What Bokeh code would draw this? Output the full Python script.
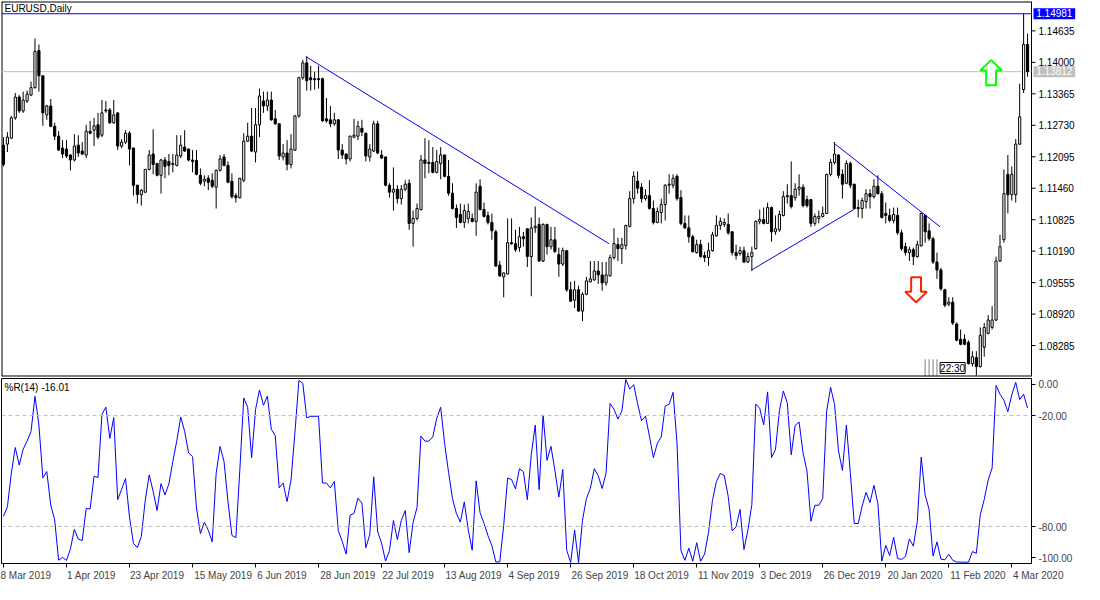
import numpy as np
from bokeh.plotting import figure
from bokeh.layouts import column
from bokeh.models import FixedTicker, Range1d, Span, Label
from bokeh.core.properties import value
from bokeh.embed import file_html
from bokeh.resources import INLINE

# ---------------- data (EURUSD daily) ----------------
opens = [
 1.1233, 1.1235, 1.1247, 1.1288, 1.1330, 1.1302, 1.1322, 1.1334, 1.1349, 1.1424,
 1.1373, 1.1294, 1.1312, 1.1271, 1.1251, 1.1227, 1.1225, 1.1213, 1.1203, 1.1233,
 1.1221, 1.1213, 1.1261, 1.1263, 1.1274, 1.1253, 1.1304, 1.1304, 1.1278, 1.1298,
 1.1231, 1.1239, 1.1257, 1.1227, 1.1152, 1.1133, 1.1138, 1.1184, 1.1215, 1.1196,
 1.1172, 1.1203, 1.1200, 1.1194, 1.1192, 1.1211, 1.1229, 1.1225, 1.1203, 1.1202,
 1.1172, 1.1160, 1.1166, 1.1162, 1.1148, 1.1182, 1.1209, 1.1192, 1.1160, 1.1131,
 1.1127, 1.1162, 1.1241, 1.1251, 1.1219, 1.1274, 1.1322, 1.1312, 1.1324, 1.1286,
 1.1276, 1.1209, 1.1217, 1.1194, 1.1223, 1.1292, 1.1369, 1.1399, 1.1369, 1.1367,
 1.1367, 1.1367, 1.1286, 1.1284, 1.1276, 1.1284, 1.1223, 1.1215, 1.1205, 1.1249,
 1.1251, 1.1267, 1.1257, 1.1209, 1.1221, 1.1276, 1.1213, 1.1209, 1.1152, 1.1138,
 1.1144, 1.1125, 1.1144, 1.1156, 1.1075, 1.1085, 1.1103, 1.1203, 1.1198, 1.1198,
 1.1178, 1.1196, 1.1213, 1.1170, 1.1136, 1.1105, 1.1093, 1.1077, 1.1085, 1.1085,
 1.1079, 1.1150, 1.1103, 1.1091, 1.1077, 1.1058, 1.0991, 1.0967, 1.0973, 1.1036,
 1.1034, 1.1026, 1.1048, 1.1064, 1.1008, 1.1066, 1.1073, 1.0999, 1.1073, 1.1028,
 1.1042, 1.1012, 1.0993, 1.1020, 1.0941, 1.0920, 1.0941, 1.0898, 1.0932, 1.0957,
 1.0961, 1.0979, 1.0971, 1.0955, 1.0969, 1.1006, 1.1032, 1.1024, 1.1030, 1.1069,
 1.1125, 1.1160, 1.1148, 1.1125, 1.1131, 1.1105, 1.1077, 1.1097, 1.1113, 1.1152,
 1.1152, 1.1170, 1.1127, 1.1075, 1.1066, 1.1048, 1.1016, 1.1032, 1.1010, 1.1006,
 1.1020, 1.1050, 1.1071, 1.1073, 1.1073, 1.1058, 1.1016, 1.1014, 1.1020, 1.0997,
 1.1008, 1.1024, 1.1079, 1.1083, 1.1075, 1.1107, 1.1058, 1.1062, 1.1091, 1.1129,
 1.1131, 1.1127, 1.1144, 1.1148, 1.1123, 1.1123, 1.1075, 1.1085, 1.1089, 1.1095,
 1.1174, 1.1198, 1.1213, 1.1174, 1.1156, 1.1196, 1.1154, 1.1107, 1.1105, 1.1119,
 1.1135, 1.1129, 1.1150, 1.1135, 1.1095, 1.1091, 1.1081, 1.1091, 1.1056, 1.1028,
 1.1016, 1.1022, 1.1008, 1.1030, 1.1091, 1.1060, 1.1044, 1.0997, 1.0981, 1.0941,
 1.0912, 1.0916, 1.0872, 1.0841, 1.0841, 1.0835, 1.0792, 1.0804, 1.0786, 1.0825,
 1.0853, 1.0865, 1.0880, 1.0999, 1.1042, 1.1174, 1.1133, 1.1133, 1.1235, 1.1345,
 1.1436]

highs = [
 1.1249, 1.1259, 1.1292, 1.1338, 1.1334, 1.1341, 1.1343, 1.1361, 1.1448, 1.1436,
 1.1373, 1.1314, 1.1326, 1.1278, 1.1261, 1.1243, 1.1243, 1.1215, 1.1255, 1.1253,
 1.1239, 1.1274, 1.1282, 1.1288, 1.1298, 1.1324, 1.1322, 1.1308, 1.1324, 1.1299,
 1.1245, 1.1263, 1.1261, 1.1228, 1.1153, 1.1144, 1.1185, 1.1223, 1.1265, 1.1197,
 1.1205, 1.1209, 1.1215, 1.1215, 1.1253, 1.1253, 1.1263, 1.1226, 1.1223, 1.1223,
 1.1186, 1.1172, 1.1172, 1.1176, 1.1184, 1.1213, 1.1215, 1.1200, 1.1176, 1.1136,
 1.1167, 1.1257, 1.1278, 1.1308, 1.1308, 1.1347, 1.1341, 1.1341, 1.1341, 1.1304,
 1.1277, 1.1235, 1.1243, 1.1255, 1.1294, 1.1371, 1.1405, 1.1412, 1.1393, 1.1381,
 1.1393, 1.1369, 1.1328, 1.1312, 1.1298, 1.1285, 1.1235, 1.1216, 1.1252, 1.1286,
 1.1282, 1.1284, 1.1258, 1.1235, 1.1282, 1.1282, 1.1223, 1.1210, 1.1156, 1.1188,
 1.1152, 1.1152, 1.1162, 1.1164, 1.1101, 1.1115, 1.1213, 1.1247, 1.1243, 1.1229,
 1.1223, 1.1229, 1.1214, 1.1203, 1.1156, 1.1113, 1.1115, 1.1113, 1.1115, 1.1095,
 1.1156, 1.1164, 1.1117, 1.1099, 1.1095, 1.1062, 1.0999, 1.0976, 1.1085, 1.1085,
 1.1062, 1.1068, 1.1058, 1.1065, 1.1087, 1.1109, 1.1087, 1.1075, 1.1074, 1.1068,
 1.1068, 1.1026, 1.1026, 1.1021, 1.0957, 1.0959, 1.0949, 1.0936, 1.0967, 1.0999,
 1.0999, 1.0999, 1.0997, 1.0997, 1.1012, 1.1065, 1.1046, 1.1046, 1.1072, 1.1140,
 1.1180, 1.1180, 1.1156, 1.1144, 1.1162, 1.1121, 1.1107, 1.1125, 1.1154, 1.1174,
 1.1174, 1.1174, 1.1142, 1.1091, 1.1091, 1.1052, 1.1042, 1.1042, 1.1018, 1.1036,
 1.1058, 1.1091, 1.1087, 1.1085, 1.1095, 1.1059, 1.1032, 1.1028, 1.1028, 1.1016,
 1.1028, 1.1081, 1.1103, 1.1107, 1.1117, 1.1109, 1.1091, 1.1101, 1.1140, 1.1154,
 1.1200, 1.1156, 1.1174, 1.1154, 1.1131, 1.1124, 1.1095, 1.1101, 1.1109, 1.1175,
 1.1205, 1.1239, 1.1215, 1.1184, 1.1202, 1.1200, 1.1155, 1.1123, 1.1127, 1.1144,
 1.1144, 1.1164, 1.1172, 1.1140, 1.1117, 1.1105, 1.1107, 1.1107, 1.1062, 1.1036,
 1.1028, 1.1026, 1.1040, 1.1097, 1.1093, 1.1075, 1.1048, 1.1016, 1.0985, 1.0943,
 1.0926, 1.0926, 1.0875, 1.0861, 1.0851, 1.0839, 1.0817, 1.0817, 1.0865, 1.0874,
 1.0890, 1.0908, 1.1008, 1.1052, 1.1184, 1.1213, 1.1190, 1.1245, 1.1357, 1.14981,
 1.1458]

lows = [
 1.1190, 1.1219, 1.1245, 1.1284, 1.1298, 1.1298, 1.1318, 1.1332, 1.1347, 1.1341,
 1.1272, 1.1284, 1.1269, 1.1243, 1.1221, 1.1207, 1.1207, 1.1182, 1.1200, 1.1209,
 1.1213, 1.1207, 1.1255, 1.1231, 1.1245, 1.1249, 1.1298, 1.1276, 1.1276, 1.1223,
 1.1227, 1.1235, 1.1192, 1.1131, 1.1115, 1.1111, 1.1136, 1.1182, 1.1174, 1.1170,
 1.1135, 1.1166, 1.1172, 1.1178, 1.1190, 1.1207, 1.1219, 1.1200, 1.1178, 1.1172,
 1.1152, 1.1150, 1.1142, 1.1146, 1.1105, 1.1180, 1.1190, 1.1156, 1.1125, 1.1117,
 1.1125, 1.1158, 1.1239, 1.1219, 1.1198, 1.1249, 1.1298, 1.1302, 1.1282, 1.1274,
 1.1203, 1.1202, 1.1182, 1.1186, 1.1221, 1.1288, 1.1365, 1.1343, 1.1343, 1.1345,
 1.1347, 1.1280, 1.1278, 1.1269, 1.1272, 1.1205, 1.1205, 1.1194, 1.1200, 1.1247,
 1.1243, 1.1251, 1.1200, 1.1200, 1.1219, 1.1215, 1.1205, 1.1150, 1.1127, 1.1101,
 1.1115, 1.1113, 1.1140, 1.1062, 1.1028, 1.1081, 1.1101, 1.1166, 1.1176, 1.1176,
 1.1176, 1.1164, 1.1168, 1.1131, 1.1103, 1.1066, 1.1075, 1.1066, 1.1075, 1.1077,
 1.1050, 1.1101, 1.1087, 1.1073, 1.1042, 1.0987, 1.0967, 1.0926, 1.0972, 1.1032,
 1.1018, 1.1018, 1.1028, 1.0987, 1.0928, 1.1056, 1.0997, 1.0997, 1.1012, 1.1022,
 1.1016, 1.0967, 1.0989, 1.0937, 1.0917, 1.0904, 1.0897, 1.0878, 1.0930, 1.0956,
 1.0959, 1.0953, 1.0939, 1.0949, 1.0968, 1.1002, 1.0999, 1.0993, 1.1022, 1.1067,
 1.1115, 1.1135, 1.1117, 1.1121, 1.1103, 1.1073, 1.1075, 1.1075, 1.1081, 1.1135,
 1.1146, 1.1121, 1.1071, 1.1064, 1.1036, 1.1016, 1.1014, 1.1006, 1.0997, 1.0989,
 1.1018, 1.1048, 1.1062, 1.1068, 1.1052, 1.1010, 1.1002, 1.1010, 1.0995, 1.0995,
 1.0979, 1.1022, 1.1073, 1.1073, 1.1074, 1.1038, 1.1052, 1.1058, 1.1089, 1.1115,
 1.1105, 1.1121, 1.1131, 1.1107, 1.1107, 1.1068, 1.1070, 1.1075, 1.1087, 1.1094,
 1.1170, 1.1194, 1.1166, 1.1125, 1.1154, 1.1146, 1.1103, 1.1087, 1.1085, 1.1105,
 1.1105, 1.1125, 1.1133, 1.1085, 1.1075, 1.1077, 1.1075, 1.1052, 1.1020, 1.1010,
 1.0999, 1.0991, 1.1006, 1.1028, 1.1036, 1.1040, 1.0993, 1.0963, 1.0939, 1.0906,
 1.0908, 1.0870, 1.0837, 1.0829, 1.0829, 1.0790, 1.0786, 1.0768, 1.0784, 1.0806,
 1.0851, 1.0861, 1.0878, 1.0997, 1.1036, 1.1095, 1.1121, 1.1117, 1.1233, 1.1338,
 1.1371]

closes = [
 1.1194, 1.1249, 1.1288, 1.1330, 1.1302, 1.1324, 1.1336, 1.1349, 1.1422, 1.1373,
 1.1298, 1.1312, 1.1271, 1.1251, 1.1223, 1.1215, 1.1211, 1.1203, 1.1231, 1.1217,
 1.1215, 1.1261, 1.1257, 1.1272, 1.1249, 1.1298, 1.1302, 1.1278, 1.1294, 1.1231,
 1.1239, 1.1257, 1.1225, 1.1152, 1.1133, 1.1142, 1.1184, 1.1213, 1.1194, 1.1172,
 1.1203, 1.1190, 1.1192, 1.1196, 1.1213, 1.1233, 1.1221, 1.1203, 1.1200, 1.1174,
 1.1156, 1.1164, 1.1158, 1.1150, 1.1182, 1.1205, 1.1192, 1.1158, 1.1129, 1.1127,
 1.1166, 1.1241, 1.1251, 1.1221, 1.1274, 1.1332, 1.1312, 1.1324, 1.1284, 1.1276,
 1.1211, 1.1217, 1.1194, 1.1225, 1.1292, 1.1369, 1.1399, 1.1363, 1.1365, 1.1365,
 1.1365, 1.1282, 1.1282, 1.1276, 1.1284, 1.1223, 1.1213, 1.1205, 1.1251, 1.1253,
 1.1271, 1.1259, 1.1211, 1.1225, 1.1276, 1.1217, 1.1207, 1.1152, 1.1138, 1.1144,
 1.1125, 1.1144, 1.1154, 1.1075, 1.1085, 1.1105, 1.1203, 1.1196, 1.1196, 1.1178,
 1.1200, 1.1213, 1.1170, 1.1136, 1.1105, 1.1087, 1.1077, 1.1101, 1.1099, 1.1079,
 1.1138, 1.1103, 1.1089, 1.1077, 1.1060, 1.0989, 1.0969, 1.0975, 1.1036, 1.1034,
 1.1022, 1.1048, 1.1044, 1.1008, 1.1066, 1.1069, 1.0999, 1.1073, 1.1028, 1.1042,
 1.1018, 1.0993, 1.1020, 1.0941, 1.0918, 1.0941, 1.0898, 1.0932, 1.0959, 1.0963,
 1.0979, 1.0971, 1.0955, 1.0971, 1.1006, 1.1034, 1.1024, 1.1032, 1.1071, 1.1125,
 1.1170, 1.1146, 1.1125, 1.1131, 1.1105, 1.1077, 1.1099, 1.1113, 1.1152, 1.1154,
 1.1166, 1.1125, 1.1075, 1.1066, 1.1048, 1.1018, 1.1032, 1.1008, 1.1006, 1.1020,
 1.1052, 1.1071, 1.1079, 1.1077, 1.1056, 1.1016, 1.1010, 1.1020, 1.0997, 1.1008,
 1.1016, 1.1079, 1.1083, 1.1075, 1.1107, 1.1058, 1.1064, 1.1093, 1.1129, 1.1131,
 1.1109, 1.1144, 1.1148, 1.1111, 1.1111, 1.1075, 1.1089, 1.1089, 1.1095, 1.1174,
 1.1198, 1.1215, 1.1172, 1.1154, 1.1196, 1.1152, 1.1105, 1.1105, 1.1121, 1.1135,
 1.1129, 1.1150, 1.1135, 1.1087, 1.1091, 1.1081, 1.1093, 1.1056, 1.1024, 1.1016,
 1.1022, 1.1008, 1.1032, 1.1095, 1.1058, 1.1044, 1.0997, 1.0981, 1.0943, 1.0910,
 1.0916, 1.0874, 1.0839, 1.0831, 1.0831, 1.0792, 1.0806, 1.0786, 1.0849, 1.0865,
 1.0880, 1.0880, 1.0999, 1.1028, 1.1135, 1.1133, 1.1174, 1.1235, 1.1290, 1.1436,
 1.13812]

# %R values of the first bars (their 14-day window starts before the chart)
wr_head = [-74.5, -69.3, -51.1, -37.3, -46.8, -38.2, -33.8, -28.6, -9.6, -25.2, -53.7, -50.3, -68.4]

date_labels = ["8 Mar 2019", "1 Apr 2019", "23 Apr 2019", "15 May 2019", "6 Jun 2019",
               "28 Jun 2019", "22 Jul 2019", "13 Aug 2019", "4 Sep 2019", "26 Sep 2019",
               "18 Oct 2019", "11 Nov 2019", "3 Dec 2019", "26 Dec 2019", "20 Jan 2020",
               "11 Feb 2020", "4 Mar 2020"]
date_label_step = 16

price_ticks = [1.08285, 1.08920, 1.09555, 1.10190, 1.10825, 1.11460,
               1.12095, 1.12730, 1.13365, 1.14000, 1.14635]
high_level = 1.14981
last_price = 1.13812
wr_levels = [-20, -80]
wr_period = 14
wr_text = "%R(14) -16.01"

# trend lines: (bar0, price0, bar1, price1)
trend_lines = [(76.75, 1.14118, 153.75, 1.10340),
               (189.9, 1.09808, 215.9, 1.11030),
               (210.75, 1.12376, 237.8, 1.10681)]
# arrows: (bar, tip, head base, tail)
up_arrow = (250.75, 1.14045, 1.13834, 1.13539)
down_arrow = (231.7, 1.09158, 1.09368, 1.09664)

FONT = "Liberation Sans"
BLUE = "#0000FF"
PLOT_W = 1030       # chart area width in px
AXIS_W = 53         # price-scale width in px

o = np.array(opens); h = np.array(highs); l = np.array(lows); c = np.array(closes)
xi = np.arange(len(c))
n = len(c)

# Williams %R(14) from the candle values (first bars)
wr = list(wr_head)
for k in range(len(wr_head), n):
    s = max(0, k - wr_period + 1)
    hh = h[s:k + 1].max(); ll = l[s:k + 1].min()
    wr.append(-100.0 * (hh - c[k]) / (hh - ll))

x0 = -0.5
x_edge = float(n)                                   # right edge of chart area (price-scale line)
bar_px = PLOT_W / (x_edge - x0)
x_end_main = x0 + (PLOT_W + AXIS_W) / bar_px       # main frame also covers the price scale
y_lo, y_hi = 1.07660, 1.15228

# ---------------- main price panel ----------------
p = figure(x_range=Range1d(x0, x_end_main), y_range=Range1d(y_lo, y_hi),
           frame_width=PLOT_W + AXIS_W, frame_height=375,
           min_border_left=1, min_border_right=0, min_border_top=1, min_border_bottom=1,
           x_axis_location=None, y_axis_location=None,
           toolbar_location=None, output_backend="svg")
p.grid.visible = False
p.outline_line_color = None
p.background_fill_color = "white"
p.border_fill_color = "white"

# chart box (top, bottom, left edge, price-scale line)
p.segment([x0, x0, x0, x_edge], [y_hi, y_lo, y_lo, y_lo],
          [x_edge, x_edge, x0, x_edge], [y_hi, y_lo, y_hi, y_hi],
          line_color="black", line_width=[2, 2, 2, 1])

# price scale: ticks and labels
p.ray(x=[x_edge] * len(price_ticks), y=price_ticks, length=4, length_units="screen",
      angle=0, line_color="black", line_width=1)
p.text(x=[x_edge] * len(price_ticks), y=price_ticks, text=["%.5f" % v for v in price_ticks],
       x_offset=7, text_baseline="middle", text_align="left", text_color="black",
       text_font=value(FONT), text_font_size="10px")

# horizontal levels
p.segment([x0, x0], [high_level, last_price], [x_edge, x_edge], [high_level, last_price],
          line_color=[BLUE, "#C0C0C0"], line_width=1)

# candles
p.segment(xi, h, xi, l, line_color="black", line_width=1)
up = c >= o
dn = ~up
p.vbar(x=xi[up], width=0.55, top=c[up], bottom=o[up], fill_color="white", line_color="black", line_width=1)
p.vbar(x=xi[dn], width=0.55, top=o[dn], bottom=c[dn], fill_color="black", line_color="black", line_width=1)

for (tx0, ty0, tx1, ty1) in trend_lines:
    p.line([tx0, tx1], [ty0, ty1], line_color=BLUE, line_width=1)

def arrow_poly(spec, hw=2.75, sw=1.25):
    bx, tip, base, tail = spec
    xs = [bx, bx + hw, bx + sw, bx + sw, bx - sw, bx - sw, bx - hw]
    ys = [tip, base, base, tail, tail, base, base]
    return xs, ys

ax, ay = arrow_poly(up_arrow)
p.patch(ax, ay, fill_color="white", line_color="#00FF00", line_width=2)
ax, ay = arrow_poly(down_arrow)
p.patch(ax, ay, fill_color="white", line_color="#FF2000", line_width=2)

# small timer marker at the bottom
sep_bars = [234, 235, 236, 237]
p.segment(sep_bars, [y_lo] * 4, sep_bars, [1.0800] * 4, line_color="black", line_width=1, line_dash="1 1")
p.add_layout(Label(x=237.8, y=y_lo, y_offset=3, text="22:30", text_font=FONT,
                   text_font_size="10px", text_color="black", text_baseline="bottom",
                   background_fill_color="white", border_line_color="black"))

p.add_layout(Label(x=x0, y=y_hi, x_offset=3, y_offset=-1, text="EURUSD,Daily",
                   text_font=FONT, text_font_size="10px", text_color="black",
                   text_baseline="top"))
# boxed price tags on the price scale
NB = "\u00a0"
p.add_layout(Label(x=x_edge, y=high_level, x_offset=2, text=NB + "%.5f" % high_level + NB,
                   text_font=FONT, text_font_size="10px", text_color="white",
                   text_baseline="middle", background_fill_color=BLUE))
p.add_layout(Label(x=x_edge, y=last_price, x_offset=2, text=NB + "%.5f" % last_price + NB,
                   text_font=FONT, text_font_size="10px", text_color="white",
                   text_baseline="middle", background_fill_color="#C0C0C0"))

# ---------------- indicator panel ----------------
q = figure(x_range=Range1d(x0, x_edge), y_range=Range1d(-100, 0),
           frame_width=PLOT_W, frame_height=185,
           min_border_left=1, min_border_right=AXIS_W, min_border_top=1, min_border_bottom=20,
           y_axis_location="right", toolbar_location=None, output_backend="svg")
q.grid.visible = False
q.outline_line_color = "black"
q.background_fill_color = "white"
q.border_fill_color = "white"
for lv in wr_levels:
    q.add_layout(Span(location=lv, dimension="width", line_color="#C0C0C0", line_width=1, line_dash="4 3"))
q.line(xi, wr, line_color=BLUE, line_width=1)
q.add_layout(Label(x=x0, y=0, x_offset=3, y_offset=-3, text=wr_text, text_font=FONT,
                   text_font_size="10px", text_color="black", text_baseline="top"))

qa = q.yaxis[0]
qa.ticker = FixedTicker(ticks=[-97, -80, -20, -3])
qa.major_label_overrides = {-97: "-100.00", -80: "-80.00", -20: "-20.00", -3: "0.00"}
qa.major_tick_out = 4
qa.major_tick_in = 0
qa.minor_tick_line_color = None
qa.axis_line_color = "black"
qa.major_label_text_font = FONT
qa.major_label_text_font_size = "10px"
qa.major_label_standoff = 3

# left-aligned date labels (MT4 style): pad with no-break spaces
cw = {' ': .278, 'M': .833, 'A': .667, 'J': .5, 'S': .667, 'O': .778, 'N': .722, 'D': .722,
      'F': .611, 'a': .556, 'r': .333, 'p': .556, 'e': .556, 'c': .5, 'u': .556, 'n': .556,
      'l': .222, 'g': .556, 't': .278, 'o': .556, 'v': .5, 'y': .5, 'b': .556}
def pad(s):
    w = sum(cw.get(ch, .556) for ch in s)
    return NB * int(round((w + 0.25) / 0.278)) + s

tick_pos = [i * date_label_step for i in range(len(date_labels))]
xa = q.xaxis[0]
xa.ticker = FixedTicker(ticks=tick_pos)
xa.major_label_overrides = {t: (s if t == 0 else pad(s)) for t, s in zip(tick_pos, date_labels)}
xa.major_tick_out = 4
xa.major_tick_in = 0
xa.minor_tick_line_color = None
xa.axis_line_color = "black"
xa.major_label_text_font = FONT
xa.major_label_text_font_size = "10px"
xa.major_label_standoff = 2

layout = column(p, q, spacing=0)
open("out.html", "w").write(file_html(layout, INLINE, "EURUSD,Daily"))
